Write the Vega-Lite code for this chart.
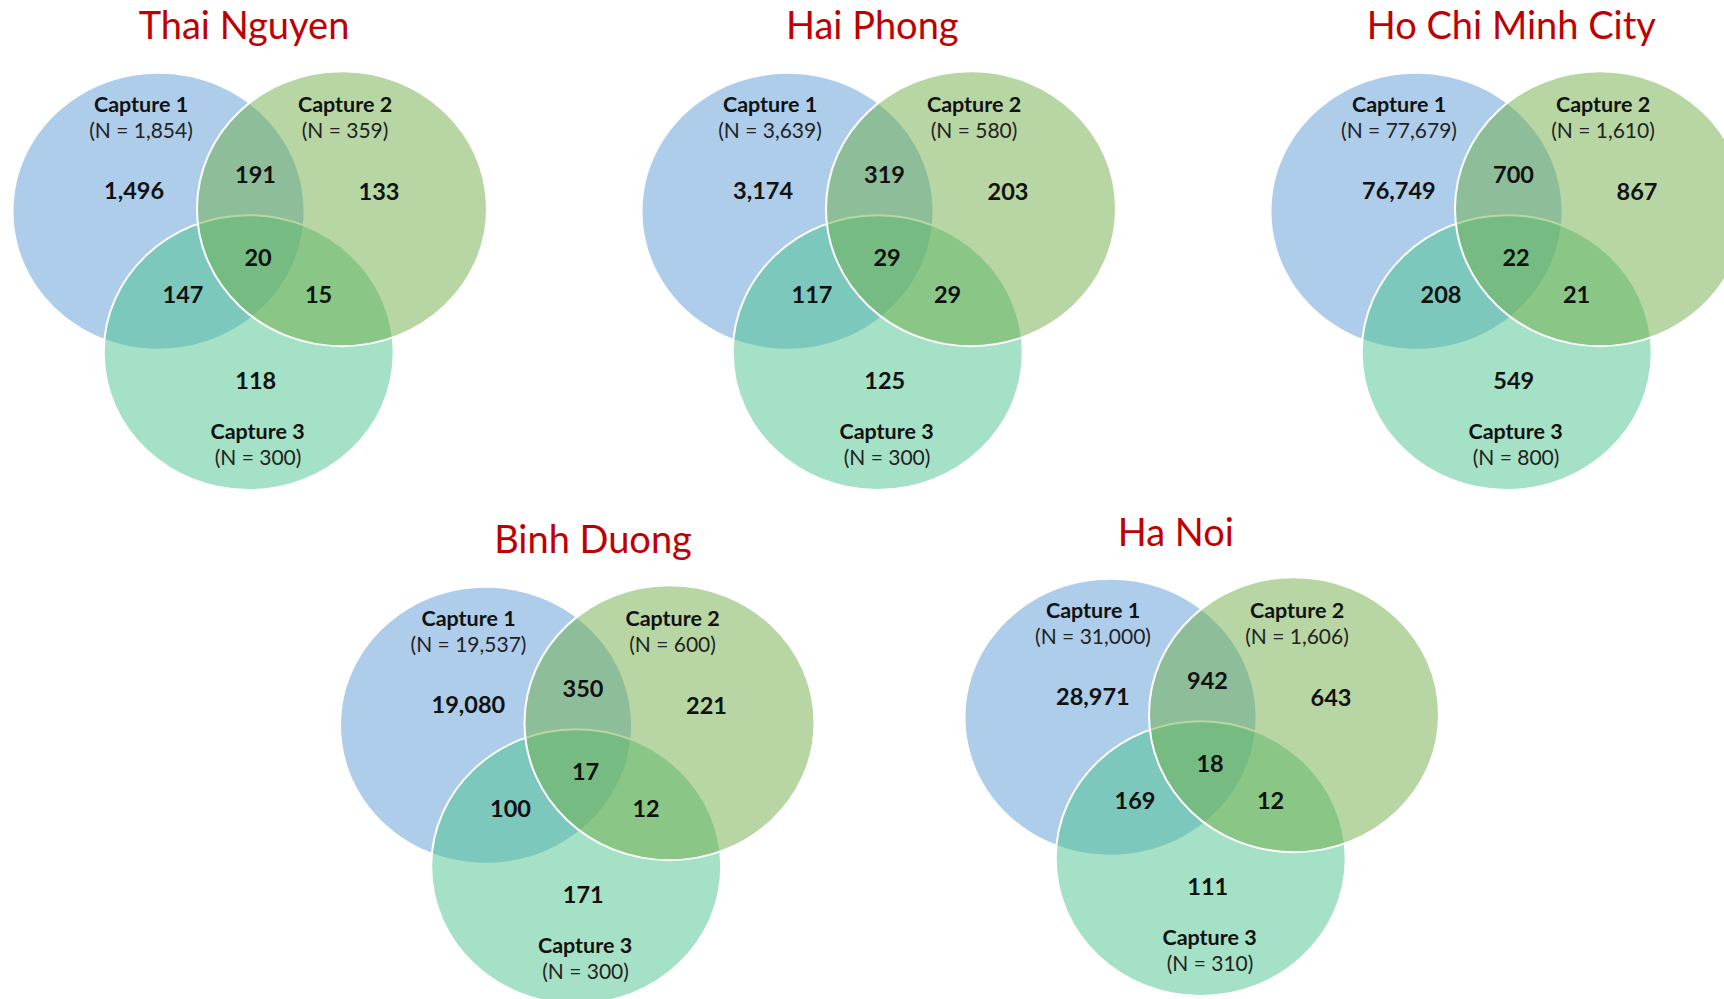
{
  "$schema": "https://vega.github.io/schema/vega-lite/v6.json",
  "padding": 0,
  "background": "white",
  "spacing": 0,
  "config": {"view": {"stroke": null}, "concat": {"spacing": 0}},
  "datasets": {
    "cities": [
      {"city": "Thai Nguyen", "x": 244, "y": 38.8},
      {"city": "Hai Phong", "x": 243.3, "y": 38.8},
      {"city": "Ho Chi Minh City", "x": 253.3, "y": 38.8},
      {"city": "Binh Duong", "x": 265.5, "y": 38.8},
      {"city": "Ha Noi", "x": 223.8, "y": 39.5}
    ],
    "circles": [
      {"set": "Capture 1", "x": 158.5, "y": 211.3},
      {"set": "Capture 3", "x": 248.7, "y": 352.6},
      {"set": "Capture 2", "x": 342, "y": 208.7}
    ],
    "setpos": [
      {"set": "Capture 1", "x": 141, "y": 112},
      {"set": "Capture 2", "x": 345, "y": 112},
      {"set": "Capture 3", "x": 257.5, "y": 439.3}
    ],
    "npos": [
      {"set": "Capture 1", "x": 141, "y": 137.5},
      {"set": "Capture 2", "x": 345, "y": 137.5},
      {"set": "Capture 3", "x": 258, "y": 465}
    ],
    "regionpos": [
      {"region": "1", "x": 104, "y": 199},
      {"region": "12", "x": 255.5, "y": 182.7},
      {"region": "2", "x": 379, "y": 200},
      {"region": "123", "x": 258, "y": 265.7},
      {"region": "13", "x": 183, "y": 303.3},
      {"region": "23", "x": 318.6, "y": 303.3},
      {"region": "3", "x": 255.7, "y": 389.3}
    ],
    "sets": [
      {"city": "Thai Nguyen", "set": "Capture 1", "n": 1854, "label": "(N = 1,854)"},
      {"city": "Thai Nguyen", "set": "Capture 2", "n": 359, "label": "(N = 359)"},
      {"city": "Thai Nguyen", "set": "Capture 3", "n": 300, "label": "(N = 300)"},
      {"city": "Hai Phong", "set": "Capture 1", "n": 3639, "label": "(N = 3,639)"},
      {"city": "Hai Phong", "set": "Capture 2", "n": 580, "label": "(N = 580)"},
      {"city": "Hai Phong", "set": "Capture 3", "n": 300, "label": "(N = 300)"},
      {"city": "Ho Chi Minh City", "set": "Capture 1", "n": 77679, "label": "(N = 77,679)"},
      {"city": "Ho Chi Minh City", "set": "Capture 2", "n": 1610, "label": "(N = 1,610)"},
      {"city": "Ho Chi Minh City", "set": "Capture 3", "n": 800, "label": "(N = 800)"},
      {"city": "Binh Duong", "set": "Capture 1", "n": 19537, "label": "(N = 19,537)"},
      {"city": "Binh Duong", "set": "Capture 2", "n": 600, "label": "(N = 600)"},
      {"city": "Binh Duong", "set": "Capture 3", "n": 300, "label": "(N = 300)"},
      {"city": "Ha Noi", "set": "Capture 1", "n": 31000, "label": "(N = 31,000)"},
      {"city": "Ha Noi", "set": "Capture 2", "n": 1606, "label": "(N = 1,606)"},
      {"city": "Ha Noi", "set": "Capture 3", "n": 310, "label": "(N = 310)"}
    ],
    "counts": [
      {"city": "Thai Nguyen", "region": "1", "count": 1496},
      {"city": "Thai Nguyen", "region": "12", "count": 191},
      {"city": "Thai Nguyen", "region": "2", "count": 133},
      {"city": "Thai Nguyen", "region": "123", "count": 20},
      {"city": "Thai Nguyen", "region": "13", "count": 147},
      {"city": "Thai Nguyen", "region": "23", "count": 15},
      {"city": "Thai Nguyen", "region": "3", "count": 118},
      {"city": "Hai Phong", "region": "1", "count": 3174},
      {"city": "Hai Phong", "region": "12", "count": 319},
      {"city": "Hai Phong", "region": "2", "count": 203},
      {"city": "Hai Phong", "region": "123", "count": 29},
      {"city": "Hai Phong", "region": "13", "count": 117},
      {"city": "Hai Phong", "region": "23", "count": 29},
      {"city": "Hai Phong", "region": "3", "count": 125},
      {"city": "Ho Chi Minh City", "region": "1", "count": 76749},
      {"city": "Ho Chi Minh City", "region": "12", "count": 700},
      {"city": "Ho Chi Minh City", "region": "2", "count": 867},
      {"city": "Ho Chi Minh City", "region": "123", "count": 22},
      {"city": "Ho Chi Minh City", "region": "13", "count": 208},
      {"city": "Ho Chi Minh City", "region": "23", "count": 21},
      {"city": "Ho Chi Minh City", "region": "3", "count": 549},
      {"city": "Binh Duong", "region": "1", "count": 19080},
      {"city": "Binh Duong", "region": "12", "count": 350},
      {"city": "Binh Duong", "region": "2", "count": 221},
      {"city": "Binh Duong", "region": "123", "count": 17},
      {"city": "Binh Duong", "region": "13", "count": 100},
      {"city": "Binh Duong", "region": "23", "count": 12},
      {"city": "Binh Duong", "region": "3", "count": 171},
      {"city": "Ha Noi", "region": "1", "count": 28971},
      {"city": "Ha Noi", "region": "12", "count": 942},
      {"city": "Ha Noi", "region": "2", "count": 643},
      {"city": "Ha Noi", "region": "123", "count": 18},
      {"city": "Ha Noi", "region": "13", "count": 169},
      {"city": "Ha Noi", "region": "23", "count": 12},
      {"city": "Ha Noi", "region": "3", "count": 111}
    ]
  },
  "vconcat": [
    {
      "hconcat": [
        {
          "width": 629, "height": 514,
          "encoding": {
            "x": {"field": "x", "type": "quantitative", "scale": {"domain": [0, 629], "nice": false, "zero": false}, "axis": null},
            "y": {"field": "y", "type": "quantitative", "scale": {"domain": [0, 514], "nice": false, "zero": false, "reverse": true}, "axis": null}
          },
          "layer": [
            {"data": {"name": "circles"}, "transform": [{"filter": "datum.set == 'Capture 1'"}],
             "mark": {"type": "point", "shape": "M1,0C1,0.5236 0.5523,0.948 0,0.948C-0.5523,0.948 -1,0.5236 -1,0C-1,-0.5236 -0.5523,-0.948 0,-0.948C0.5523,-0.948 1,-0.5236 1,0Z", "size": 84100, "filled": true, "opacity": 1, "fillOpacity": 0.5, "strokeWidth": 0, "clip": true},
             "encoding": {"color": {"field": "set", "type": "nominal", "scale": {"domain": ["Capture 1", "Capture 2", "Capture 3"], "range": ["#5B9BD5", "#70AD47", "#4CC48E"]}, "legend": null}}},
            {"data": {"name": "circles"}, "transform": [{"filter": "datum.set != 'Capture 1'"}],
             "mark": {"type": "point", "shape": "M1,0C1,0.5236 0.5523,0.948 0,0.948C-0.5523,0.948 -1,0.5236 -1,0C-1,-0.5236 -0.5523,-0.948 0,-0.948C0.5523,-0.948 1,-0.5236 1,0Z", "size": 84100, "filled": true, "opacity": 1, "fillOpacity": 0.5, "stroke": "white", "strokeWidth": 2, "strokeOpacity": 1, "clip": true},
             "encoding": {"color": {"field": "set", "type": "nominal", "scale": {"domain": ["Capture 1", "Capture 2", "Capture 3"], "range": ["#5B9BD5", "#70AD47", "#4CC48E"]}, "legend": null}}},
            {"data": {"name": "cities"}, "transform": [{"filter": "datum.city == 'Thai Nguyen'"}],
             "mark": {"type": "text", "font": "Lato", "fontSize": 38, "baseline": "alphabetic", "align": "center", "color": "#C00000"},
             "encoding": {"text": {"field": "city"}}},
            {"data": {"name": "sets"}, "transform": [{"filter": "datum.city == 'Thai Nguyen'"}, {"lookup": "set", "from": {"data": {"name": "setpos"}, "key": "set", "fields": ["x", "y"]}}],
             "mark": {"type": "text", "font": "Lato", "fontSize": 21.5, "fontWeight": "bold", "baseline": "alphabetic", "align": "center", "color": "#111111"},
             "encoding": {"text": {"field": "set"}}},
            {"data": {"name": "sets"}, "transform": [{"filter": "datum.city == 'Thai Nguyen'"}, {"lookup": "set", "from": {"data": {"name": "npos"}, "key": "set", "fields": ["x", "y"]}}],
             "mark": {"type": "text", "font": "Lato", "fontSize": 21, "baseline": "alphabetic", "align": "center", "color": "#222222"},
             "encoding": {"text": {"field": "label"}}},
            {"data": {"name": "counts"}, "transform": [{"filter": "datum.city == 'Thai Nguyen' && datum.region == '1'"}, {"lookup": "region", "from": {"data": {"name": "regionpos"}, "key": "region", "fields": ["x", "y"]}}],
             "mark": {"type": "text", "font": "Lato", "fontSize": 23.5, "fontWeight": "bold", "baseline": "alphabetic", "align": "left", "color": "#111111"},
             "encoding": {"text": {"field": "count", "type": "quantitative", "format": ","}}},
            {"data": {"name": "counts"}, "transform": [{"filter": "datum.city == 'Thai Nguyen' && datum.region != '1'"}, {"lookup": "region", "from": {"data": {"name": "regionpos"}, "key": "region", "fields": ["x", "y"]}}],
             "mark": {"type": "text", "font": "Lato", "fontSize": 23.5, "fontWeight": "bold", "baseline": "alphabetic", "align": "center", "color": "#111111"},
             "encoding": {"text": {"field": "count", "type": "quantitative", "format": ","}}}
          ]
        },
        {
          "width": 629, "height": 514,
          "encoding": {
            "x": {"field": "x", "type": "quantitative", "scale": {"domain": [0, 629], "nice": false, "zero": false}, "axis": null},
            "y": {"field": "y", "type": "quantitative", "scale": {"domain": [0, 514], "nice": false, "zero": false, "reverse": true}, "axis": null}
          },
          "layer": [
            {"data": {"name": "circles"}, "transform": [{"filter": "datum.set == 'Capture 1'"}],
             "mark": {"type": "point", "shape": "M1,0C1,0.5236 0.5523,0.948 0,0.948C-0.5523,0.948 -1,0.5236 -1,0C-1,-0.5236 -0.5523,-0.948 0,-0.948C0.5523,-0.948 1,-0.5236 1,0Z", "size": 84100, "filled": true, "opacity": 1, "fillOpacity": 0.5, "strokeWidth": 0, "clip": true},
             "encoding": {"color": {"field": "set", "type": "nominal", "scale": {"domain": ["Capture 1", "Capture 2", "Capture 3"], "range": ["#5B9BD5", "#70AD47", "#4CC48E"]}, "legend": null}}},
            {"data": {"name": "circles"}, "transform": [{"filter": "datum.set != 'Capture 1'"}],
             "mark": {"type": "point", "shape": "M1,0C1,0.5236 0.5523,0.948 0,0.948C-0.5523,0.948 -1,0.5236 -1,0C-1,-0.5236 -0.5523,-0.948 0,-0.948C0.5523,-0.948 1,-0.5236 1,0Z", "size": 84100, "filled": true, "opacity": 1, "fillOpacity": 0.5, "stroke": "white", "strokeWidth": 2, "strokeOpacity": 1, "clip": true},
             "encoding": {"color": {"field": "set", "type": "nominal", "scale": {"domain": ["Capture 1", "Capture 2", "Capture 3"], "range": ["#5B9BD5", "#70AD47", "#4CC48E"]}, "legend": null}}},
            {"data": {"name": "cities"}, "transform": [{"filter": "datum.city == 'Hai Phong'"}],
             "mark": {"type": "text", "font": "Lato", "fontSize": 38, "baseline": "alphabetic", "align": "center", "color": "#C00000"},
             "encoding": {"text": {"field": "city"}}},
            {"data": {"name": "sets"}, "transform": [{"filter": "datum.city == 'Hai Phong'"}, {"lookup": "set", "from": {"data": {"name": "setpos"}, "key": "set", "fields": ["x", "y"]}}],
             "mark": {"type": "text", "font": "Lato", "fontSize": 21.5, "fontWeight": "bold", "baseline": "alphabetic", "align": "center", "color": "#111111"},
             "encoding": {"text": {"field": "set"}}},
            {"data": {"name": "sets"}, "transform": [{"filter": "datum.city == 'Hai Phong'"}, {"lookup": "set", "from": {"data": {"name": "npos"}, "key": "set", "fields": ["x", "y"]}}],
             "mark": {"type": "text", "font": "Lato", "fontSize": 21, "baseline": "alphabetic", "align": "center", "color": "#222222"},
             "encoding": {"text": {"field": "label"}}},
            {"data": {"name": "counts"}, "transform": [{"filter": "datum.city == 'Hai Phong' && datum.region == '1'"}, {"lookup": "region", "from": {"data": {"name": "regionpos"}, "key": "region", "fields": ["x", "y"]}}],
             "mark": {"type": "text", "font": "Lato", "fontSize": 23.5, "fontWeight": "bold", "baseline": "alphabetic", "align": "left", "color": "#111111"},
             "encoding": {"text": {"field": "count", "type": "quantitative", "format": ","}}},
            {"data": {"name": "counts"}, "transform": [{"filter": "datum.city == 'Hai Phong' && datum.region != '1'"}, {"lookup": "region", "from": {"data": {"name": "regionpos"}, "key": "region", "fields": ["x", "y"]}}],
             "mark": {"type": "text", "font": "Lato", "fontSize": 23.5, "fontWeight": "bold", "baseline": "alphabetic", "align": "center", "color": "#111111"},
             "encoding": {"text": {"field": "count", "type": "quantitative", "format": ","}}}
          ]
        },
        {
          "width": 466, "height": 514,
          "encoding": {
            "x": {"field": "x", "type": "quantitative", "scale": {"domain": [0, 466], "nice": false, "zero": false}, "axis": null},
            "y": {"field": "y", "type": "quantitative", "scale": {"domain": [0, 514], "nice": false, "zero": false, "reverse": true}, "axis": null}
          },
          "layer": [
            {"data": {"name": "circles"}, "transform": [{"filter": "datum.set == 'Capture 1'"}],
             "mark": {"type": "point", "shape": "M1,0C1,0.5236 0.5523,0.948 0,0.948C-0.5523,0.948 -1,0.5236 -1,0C-1,-0.5236 -0.5523,-0.948 0,-0.948C0.5523,-0.948 1,-0.5236 1,0Z", "size": 84100, "filled": true, "opacity": 1, "fillOpacity": 0.5, "strokeWidth": 0, "clip": true},
             "encoding": {"color": {"field": "set", "type": "nominal", "scale": {"domain": ["Capture 1", "Capture 2", "Capture 3"], "range": ["#5B9BD5", "#70AD47", "#4CC48E"]}, "legend": null}}},
            {"data": {"name": "circles"}, "transform": [{"filter": "datum.set != 'Capture 1'"}],
             "mark": {"type": "point", "shape": "M1,0C1,0.5236 0.5523,0.948 0,0.948C-0.5523,0.948 -1,0.5236 -1,0C-1,-0.5236 -0.5523,-0.948 0,-0.948C0.5523,-0.948 1,-0.5236 1,0Z", "size": 84100, "filled": true, "opacity": 1, "fillOpacity": 0.5, "stroke": "white", "strokeWidth": 2, "strokeOpacity": 1, "clip": true},
             "encoding": {"color": {"field": "set", "type": "nominal", "scale": {"domain": ["Capture 1", "Capture 2", "Capture 3"], "range": ["#5B9BD5", "#70AD47", "#4CC48E"]}, "legend": null}}},
            {"data": {"name": "cities"}, "transform": [{"filter": "datum.city == 'Ho Chi Minh City'"}],
             "mark": {"type": "text", "font": "Lato", "fontSize": 38, "baseline": "alphabetic", "align": "center", "color": "#C00000"},
             "encoding": {"text": {"field": "city"}}},
            {"data": {"name": "sets"}, "transform": [{"filter": "datum.city == 'Ho Chi Minh City'"}, {"lookup": "set", "from": {"data": {"name": "setpos"}, "key": "set", "fields": ["x", "y"]}}],
             "mark": {"type": "text", "font": "Lato", "fontSize": 21.5, "fontWeight": "bold", "baseline": "alphabetic", "align": "center", "color": "#111111"},
             "encoding": {"text": {"field": "set"}}},
            {"data": {"name": "sets"}, "transform": [{"filter": "datum.city == 'Ho Chi Minh City'"}, {"lookup": "set", "from": {"data": {"name": "npos"}, "key": "set", "fields": ["x", "y"]}}],
             "mark": {"type": "text", "font": "Lato", "fontSize": 21, "baseline": "alphabetic", "align": "center", "color": "#222222"},
             "encoding": {"text": {"field": "label"}}},
            {"data": {"name": "counts"}, "transform": [{"filter": "datum.city == 'Ho Chi Minh City' && datum.region == '1'"}, {"lookup": "region", "from": {"data": {"name": "regionpos"}, "key": "region", "fields": ["x", "y"]}}],
             "mark": {"type": "text", "font": "Lato", "fontSize": 23.5, "fontWeight": "bold", "baseline": "alphabetic", "align": "left", "color": "#111111"},
             "encoding": {"text": {"field": "count", "type": "quantitative", "format": ","}}},
            {"data": {"name": "counts"}, "transform": [{"filter": "datum.city == 'Ho Chi Minh City' && datum.region != '1'"}, {"lookup": "region", "from": {"data": {"name": "regionpos"}, "key": "region", "fields": ["x", "y"]}}],
             "mark": {"type": "text", "font": "Lato", "fontSize": 23.5, "fontWeight": "bold", "baseline": "alphabetic", "align": "center", "color": "#111111"},
             "encoding": {"text": {"field": "count", "type": "quantitative", "format": ","}}}
          ]
        }
      ]
    },
    {
      "hconcat": [
        {
          "width": 952, "height": 485,
          "encoding": {
            "x": {"field": "x", "type": "quantitative", "scale": {"domain": [-327.5, 624.5], "nice": false, "zero": false}, "axis": null},
            "y": {"field": "y", "type": "quantitative", "scale": {"domain": [0, 485], "nice": false, "zero": false, "reverse": true}, "axis": null}
          },
          "layer": [
            {"data": {"name": "circles"}, "transform": [{"filter": "datum.set == 'Capture 1'"}],
             "mark": {"type": "point", "shape": "M1,0C1,0.5236 0.5523,0.948 0,0.948C-0.5523,0.948 -1,0.5236 -1,0C-1,-0.5236 -0.5523,-0.948 0,-0.948C0.5523,-0.948 1,-0.5236 1,0Z", "size": 84100, "filled": true, "opacity": 1, "fillOpacity": 0.5, "strokeWidth": 0, "clip": true},
             "encoding": {"color": {"field": "set", "type": "nominal", "scale": {"domain": ["Capture 1", "Capture 2", "Capture 3"], "range": ["#5B9BD5", "#70AD47", "#4CC48E"]}, "legend": null}}},
            {"data": {"name": "circles"}, "transform": [{"filter": "datum.set != 'Capture 1'"}],
             "mark": {"type": "point", "shape": "M1,0C1,0.5236 0.5523,0.948 0,0.948C-0.5523,0.948 -1,0.5236 -1,0C-1,-0.5236 -0.5523,-0.948 0,-0.948C0.5523,-0.948 1,-0.5236 1,0Z", "size": 84100, "filled": true, "opacity": 1, "fillOpacity": 0.5, "stroke": "white", "strokeWidth": 2, "strokeOpacity": 1, "clip": true},
             "encoding": {"color": {"field": "set", "type": "nominal", "scale": {"domain": ["Capture 1", "Capture 2", "Capture 3"], "range": ["#5B9BD5", "#70AD47", "#4CC48E"]}, "legend": null}}},
            {"data": {"name": "cities"}, "transform": [{"filter": "datum.city == 'Binh Duong'"}],
             "mark": {"type": "text", "font": "Lato", "fontSize": 38, "baseline": "alphabetic", "align": "center", "color": "#C00000"},
             "encoding": {"text": {"field": "city"}}},
            {"data": {"name": "sets"}, "transform": [{"filter": "datum.city == 'Binh Duong'"}, {"lookup": "set", "from": {"data": {"name": "setpos"}, "key": "set", "fields": ["x", "y"]}}],
             "mark": {"type": "text", "font": "Lato", "fontSize": 21.5, "fontWeight": "bold", "baseline": "alphabetic", "align": "center", "color": "#111111"},
             "encoding": {"text": {"field": "set"}}},
            {"data": {"name": "sets"}, "transform": [{"filter": "datum.city == 'Binh Duong'"}, {"lookup": "set", "from": {"data": {"name": "npos"}, "key": "set", "fields": ["x", "y"]}}],
             "mark": {"type": "text", "font": "Lato", "fontSize": 21, "baseline": "alphabetic", "align": "center", "color": "#222222"},
             "encoding": {"text": {"field": "label"}}},
            {"data": {"name": "counts"}, "transform": [{"filter": "datum.city == 'Binh Duong' && datum.region == '1'"}, {"lookup": "region", "from": {"data": {"name": "regionpos"}, "key": "region", "fields": ["x", "y"]}}],
             "mark": {"type": "text", "font": "Lato", "fontSize": 23.5, "fontWeight": "bold", "baseline": "alphabetic", "align": "left", "color": "#111111"},
             "encoding": {"text": {"field": "count", "type": "quantitative", "format": ","}}},
            {"data": {"name": "counts"}, "transform": [{"filter": "datum.city == 'Binh Duong' && datum.region != '1'"}, {"lookup": "region", "from": {"data": {"name": "regionpos"}, "key": "region", "fields": ["x", "y"]}}],
             "mark": {"type": "text", "font": "Lato", "fontSize": 23.5, "fontWeight": "bold", "baseline": "alphabetic", "align": "center", "color": "#111111"},
             "encoding": {"text": {"field": "count", "type": "quantitative", "format": ","}}}
          ]
        },
        {
          "width": 772, "height": 485,
          "encoding": {
            "x": {"field": "x", "type": "quantitative", "scale": {"domain": [0, 772], "nice": false, "zero": false}, "axis": null},
            "y": {"field": "y", "type": "quantitative", "scale": {"domain": [8, 493], "nice": false, "zero": false, "reverse": true}, "axis": null}
          },
          "layer": [
            {"data": {"name": "circles"}, "transform": [{"filter": "datum.set == 'Capture 1'"}],
             "mark": {"type": "point", "shape": "M1,0C1,0.5236 0.5523,0.948 0,0.948C-0.5523,0.948 -1,0.5236 -1,0C-1,-0.5236 -0.5523,-0.948 0,-0.948C0.5523,-0.948 1,-0.5236 1,0Z", "size": 84100, "filled": true, "opacity": 1, "fillOpacity": 0.5, "strokeWidth": 0, "clip": true},
             "encoding": {"color": {"field": "set", "type": "nominal", "scale": {"domain": ["Capture 1", "Capture 2", "Capture 3"], "range": ["#5B9BD5", "#70AD47", "#4CC48E"]}, "legend": null}}},
            {"data": {"name": "circles"}, "transform": [{"filter": "datum.set != 'Capture 1'"}],
             "mark": {"type": "point", "shape": "M1,0C1,0.5236 0.5523,0.948 0,0.948C-0.5523,0.948 -1,0.5236 -1,0C-1,-0.5236 -0.5523,-0.948 0,-0.948C0.5523,-0.948 1,-0.5236 1,0Z", "size": 84100, "filled": true, "opacity": 1, "fillOpacity": 0.5, "stroke": "white", "strokeWidth": 2, "strokeOpacity": 1, "clip": true},
             "encoding": {"color": {"field": "set", "type": "nominal", "scale": {"domain": ["Capture 1", "Capture 2", "Capture 3"], "range": ["#5B9BD5", "#70AD47", "#4CC48E"]}, "legend": null}}},
            {"data": {"name": "cities"}, "transform": [{"filter": "datum.city == 'Ha Noi'"}],
             "mark": {"type": "text", "font": "Lato", "fontSize": 38, "baseline": "alphabetic", "align": "center", "color": "#C00000"},
             "encoding": {"text": {"field": "city"}}},
            {"data": {"name": "sets"}, "transform": [{"filter": "datum.city == 'Ha Noi'"}, {"lookup": "set", "from": {"data": {"name": "setpos"}, "key": "set", "fields": ["x", "y"]}}],
             "mark": {"type": "text", "font": "Lato", "fontSize": 21.5, "fontWeight": "bold", "baseline": "alphabetic", "align": "center", "color": "#111111"},
             "encoding": {"text": {"field": "set"}}},
            {"data": {"name": "sets"}, "transform": [{"filter": "datum.city == 'Ha Noi'"}, {"lookup": "set", "from": {"data": {"name": "npos"}, "key": "set", "fields": ["x", "y"]}}],
             "mark": {"type": "text", "font": "Lato", "fontSize": 21, "baseline": "alphabetic", "align": "center", "color": "#222222"},
             "encoding": {"text": {"field": "label"}}},
            {"data": {"name": "counts"}, "transform": [{"filter": "datum.city == 'Ha Noi' && datum.region == '1'"}, {"lookup": "region", "from": {"data": {"name": "regionpos"}, "key": "region", "fields": ["x", "y"]}}],
             "mark": {"type": "text", "font": "Lato", "fontSize": 23.5, "fontWeight": "bold", "baseline": "alphabetic", "align": "left", "color": "#111111"},
             "encoding": {"text": {"field": "count", "type": "quantitative", "format": ","}}},
            {"data": {"name": "counts"}, "transform": [{"filter": "datum.city == 'Ha Noi' && datum.region != '1'"}, {"lookup": "region", "from": {"data": {"name": "regionpos"}, "key": "region", "fields": ["x", "y"]}}],
             "mark": {"type": "text", "font": "Lato", "fontSize": 23.5, "fontWeight": "bold", "baseline": "alphabetic", "align": "center", "color": "#111111"},
             "encoding": {"text": {"field": "count", "type": "quantitative", "format": ","}}}
          ]
        }
      ]
    }
  ]
}
